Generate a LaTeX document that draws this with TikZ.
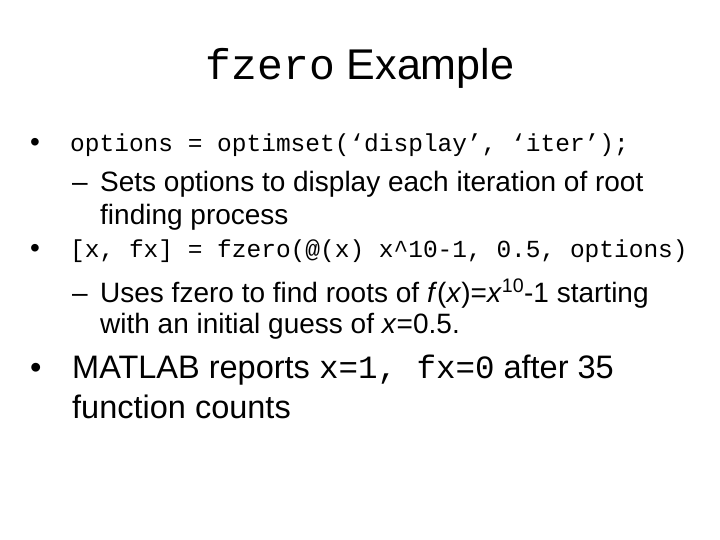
\documentclass[tikz,border=0pt]{standalone}
\usepackage{fontspec}
\setmainfont{Liberation Sans}
\setsansfont{Liberation Sans}
\setmonofont{Liberation Mono}
\begin{document}
\begin{tikzpicture}[x=1pt,y=-1pt,
  txt/.style={anchor=base west,inner sep=0pt,font=\fontsize{28}{32}\selectfont},
  big/.style={anchor=base west,inner sep=0pt,font=\fontsize{32.5}{36}\selectfont},
  code/.style={anchor=base west,inner sep=0pt,font=\fontsize{24.5}{28}\selectfont\ttfamily}]
\useasboundingbox (0,0) rectangle (720,540);
\node[anchor=base,inner sep=0pt,font=\fontsize{43}{48}\selectfont] (title) at (360,80) {\texttt{fzero} Example};
\node[txt] (b1) at (30,152) {•};
\node[code] (l1) at (70,152) {options = optimset(‘display’, ‘iter’);};
\node[txt] (d1) at (72,192) {–};
\node[txt] (l2) at (100,192) {Sets options to display each iteration of root};
\node[txt] (l2b) at (100,225) {finding process};
\node[txt] (b2) at (30,258) {•};
\node[code] (l3) at (70,258) {[x, fx] = fzero(@(x) x\^{}10-1, 0.5, options)};
\node[txt] (d2) at (72,302) {–};
\node[txt] (l4) at (100,302) {Uses fzero to find roots of \textit{f}(\textit{x})=\textit{x}\textsuperscript{10}-1 starting};
\node[txt] (l4b) at (100,333) {with an initial guess of \textit{x}=0.5.};
\node[big] (b3) at (30,378) {•};
\node[big] (l5) at (72,378) {MATLAB reports \texttt{x=1, fx=0} after 35};
\node[big] (l5b) at (72,418) {function counts};
\end{tikzpicture}
\end{document}
